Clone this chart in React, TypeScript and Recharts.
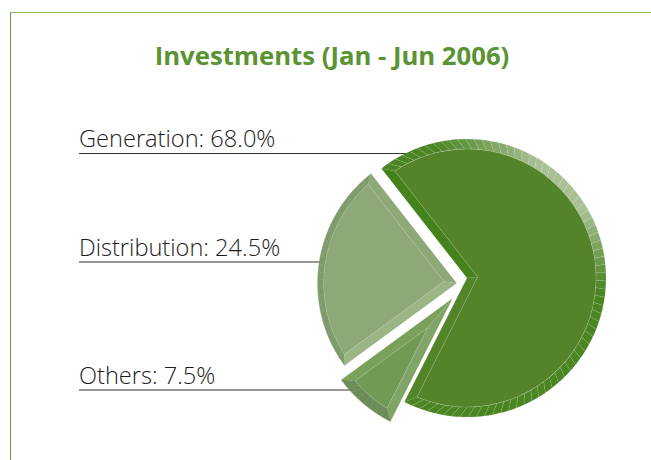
import { PieChart, Pie } from 'recharts';

const categories = ['Generation', 'Distribution', 'Others'];
const shares = [68.0, 24.5, 7.5];
const firstAngle = -116.8;

const titleText = 'Investments (Jan - Jun 2006)';

// cx, cy of each exploded slice
const sliceCx = [467, 456.7, 452.7];
const sliceCy = [278, 283.3, 298.3];
const sliceR = [139, 139, 138];
const labelLineY = [153.5, 262, 390];
const labelLineEnd = [412, 322, 352];

const faceColors = ['#54842a', '#8ea878', '#729a55'];
const rimColors = ['#4a8522', '#7f9a6b', '#6b8c57'];
const startBandColors = ['#52842a', '#8ea878', '#7aa05c'];
const endBandColors = ['#44831c', '#9bb585', '#80a566'];
const rimWidths = [10, 6, 10];
const tickAlpha = [0.16, 0, 0];

const BEVEL = 9;
const RAD = Math.PI / 180;
const FONT = '"Open Sans", sans-serif';

const hex = (c: string) => [1, 3, 5].map((i) => parseInt(c.slice(i, i + 2), 16));
const mix = (a: string, b: string, t: number) => {
  const [x, y] = [hex(a), hex(b)];
  return `rgb(${x.map((v, i) => Math.round(v + (y[i] - v) * t)).join(',')})`;
};

function BevelSlice(props: any) {
  const { cx, cy, outerRadius: R, startAngle, endAngle, index } = props;
  const id = props.sliceId ?? index ?? 0;
  const s = Math.min(startAngle, endAngle);
  const e = Math.max(startAngle, endAngle);
  const half = (e - s) / 2;
  const mid = s + half;
  const Ri = R - rimWidths[id];
  const pt = (a: number, r: number) =>
    `${(cx + r * Math.cos(a * RAD)).toFixed(2)} ${(cy - r * Math.sin(a * RAD)).toFixed(2)}`;

  const apexDist = BEVEL / Math.sin(half * RAD);
  const apex = pt(mid, apexDist);
  const outerApex = `${cx} ${cy}`;
  const shift = Math.asin(BEVEL / Ri) / RAD;
  const si = s + shift;
  const ei = e - shift;
  const large = ei - si > 180 ? 1 : 0;

  // rim is split in short segments, like the faceted edge in the original
  const segs = [];
  const count = Math.max(3, Math.round((e - s) / 3.4));
  for (let i = 0; i < count; i++) {
    const a0 = s + ((e - s) * i) / count;
    const a1 = s + ((e - s) * (i + 1)) / count;
    const b0 = si + ((ei - si) * i) / count;
    const b1 = si + ((ei - si) * (i + 1)) / count;
    let fill = rimColors[id];
    if (id === 0) {
      // highlight on the upper right of the big slice
      const m = (a0 + a1) / 2;
      const t = m > 45 ? Math.max(0, (105 - m) / 45) : Math.max(0, (m + 5) / 35);
      fill = mix(rimColors[0], '#a8c094', Math.min(1, t));
    }
    const alpha = tickAlpha[id];
    segs.push(
      <path
        key={i}
        d={`M${pt(a0, R)} A${R} ${R} 0 0 0 ${pt(a1, R)} L${pt(b1, Ri)} A${Ri} ${Ri} 0 0 1 ${pt(b0, Ri)} Z`}
        fill={fill}
        stroke={alpha > 0 ? `rgba(255,255,255,${alpha})` : fill}
        strokeWidth={0.5}
      />,
    );
  }

  return (
    <g>
      {segs}
      <path d={`M${outerApex} L${pt(s, R)} L${pt(si, Ri)} L${apex} Z`} fill={startBandColors[id]} />
      <path d={`M${outerApex} L${pt(e, R)} L${pt(ei, Ri)} L${apex} Z`} fill={endBandColors[id]} />
      <path
        d={`M${apex} L${pt(si, Ri)} A${Ri} ${Ri} 0 ${large} 0 ${pt(ei, Ri)} Z`}
        fill={faceColors[id]}
        stroke="rgba(255,255,255,0.2)"
        strokeWidth={0.6}
      />
    </g>
  );
}

export default function App() {
  let cum = firstAngle;
  const ranges = shares.map((v) => {
    const start = cum;
    cum += v * 3.6;
    return [start, cum];
  });

  return (
    <div style={{ position: 'absolute', left: 0, top: 0, width: 651, height: 460, background: '#fff', overflow: 'hidden' }}>
      <div
        style={{
          position: 'absolute',
          left: 10,
          top: 12,
          width: 641,
          height: 448,
          borderTop: '1px solid #8db568',
          borderLeft: '1px solid #5f9a2e',
          boxSizing: 'border-box',
        }}
      />
      <div style={{ position: 'absolute', left: 0, top: 0 }}>
        <PieChart width={651} height={460} margin={{ top: 0, right: 0, bottom: 0, left: 0 }}>
          <text x={332} y={65} textAnchor="middle" fontFamily={FONT} fontWeight={700} fontSize={25.7} fill="#5a9331">
            {titleText}
          </text>
          {categories.map((c, i) => (
            <g key={c}>
              <text x={79} y={Math.floor(labelLineY[i]) - 6} fontFamily={FONT} fontWeight={300} fontSize={23.6} fill="#1c1c1c">
                {`${c}: ${shares[i].toFixed(1)}%`}
              </text>
              <line x1={79} x2={labelLineEnd[i]} y1={labelLineY[i]} y2={labelLineY[i]} stroke="#333" strokeWidth={1} />
            </g>
          ))}
          {categories.map((c, i) => (
            <Pie
              key={c}
              data={[{ name: c, value: shares[i] }]}
              dataKey="value"
              nameKey="name"
              cx={sliceCx[i]}
              cy={sliceCy[i]}
              innerRadius={0}
              outerRadius={sliceR[i]}
              startAngle={ranges[i][0]}
              endAngle={ranges[i][1]}
              stroke="none"
              isAnimationActive={false}
              shape={(p: any) => <BevelSlice {...p} sliceId={i} />}
            />
          ))}
        </PieChart>
      </div>
    </div>
  );
}
